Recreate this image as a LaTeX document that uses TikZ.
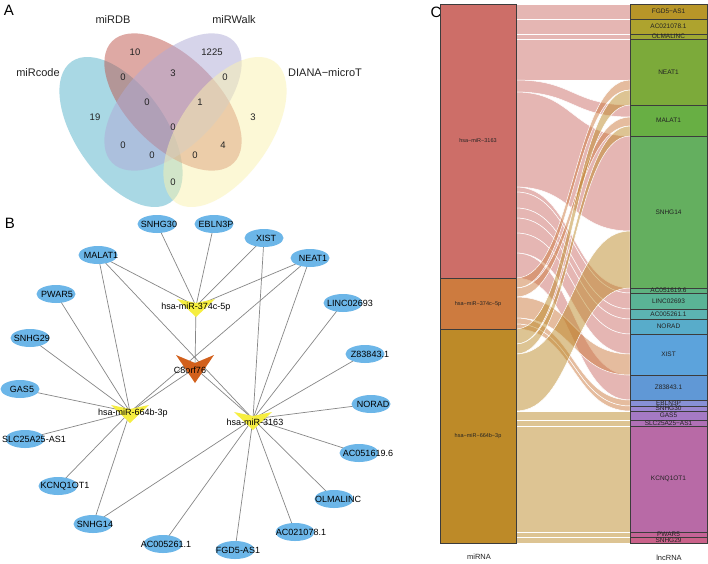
\documentclass[tikz,border=0pt]{standalone}
\usepackage{fontspec}
\setmainfont{Liberation Sans}
\usetikzlibrary{shapes.geometric}
\pgfdeclarelayer{bglayer}
\pgfdeclarelayer{edgelayer}
\pgfsetlayers{bglayer,edgelayer,main}
\definecolor{vblue}{RGB}{84,178,202}
\definecolor{vred}{RGB}{190,85,75}
\definecolor{vlav}{RGB}{175,170,215}
\definecolor{vyel}{RGB}{250,242,175}
\definecolor{lncblue}{RGB}{108,182,232}
\definecolor{miryel}{RGB}{246,238,64}
\definecolor{mrnaor}{RGB}{210,96,28}
\definecolor{edgegray}{RGB}{135,135,135}
\definecolor{s3163}{RGB}{205,110,104}
\definecolor{s374}{RGB}{205,123,63}
\definecolor{s664}{RGB}{189,138,40}
\definecolor{strokegray}{RGB}{60,60,60}
\definecolor{txtdark}{RGB}{35,35,35}
\tikzset{
  vennset/.style={fill opacity=0.5},
  vcount/.style={font=\fontsize{9.5}{9.5}\selectfont, inner sep=0pt, text=txtdark},
  vlabel/.style={font=\fontsize{11}{11}\selectfont, inner sep=0pt, text=txtdark},
  panel/.style={font=\fontsize{15}{15}\selectfont, inner sep=0pt},
  lnc/.style={ellipse, fill=lncblue, minimum width=39pt, minimum height=18pt, inner sep=0pt},
  ntxt/.style={font=\fontsize{9}{9}\selectfont, inner sep=0pt},
  edge/.style={draw=edgegray, line width=0.7pt},
  stratumbox/.style={draw=strokegray, line width=0.6pt},
  stxt/.style={font=\fontsize{6.5}{6.5}\selectfont, inner sep=0pt, text=txtdark},
  sltxt/.style={font=\fontsize{5.5}{5.5}\selectfont, inner sep=0pt, text=txtdark},
  axtxt/.style={font=\fontsize{7.5}{7.5}\selectfont, inner sep=0pt, text=txtdark},
}
\newcommand{\sflow}[5]{%
  \path[fill=#5, fill opacity=0.5, draw=white, line width=0.5pt]
   (516,#1) .. controls (573,#1) and (573,#3) .. (630,#3) -- (630,#4)
   .. controls (573,#4) and (573,#2) .. (516,#2) -- cycle;}
\begin{document}
\begin{tikzpicture}[x=1pt,y=-1pt]
\useasboundingbox (0,0) rectangle (708,563);
\begin{pgfonlayer}{bglayer}
\fill[white] (0,0) rectangle (708,563);
\end{pgfonlayer}
% ---------------- Panel A: Venn
\node[panel] (pA) at (9,10) {A};
\fill[vblue, vennset, rotate around={-55:(121,132)}] (121,132) ellipse [x radius=86, y radius=45];
\fill[vred, vennset, rotate around={-45:(173,102)}] (173,102) ellipse [x radius=86, y radius=45];
\fill[vlav, vennset, rotate around={45:(173,102)}] (173,102) ellipse [x radius=86, y radius=45];
\fill[vyel, vennset, rotate around={55:(225,132)}] (225,132) ellipse [x radius=86, y radius=45];
\foreach \x/\y/\t [count=\i] in {95/117/19, 135/52/10, 212/52/1225, 253/117/3, 123/77/0, 173/73/3,
  225/77/0, 147/102/0, 200/102/1, 173/127/0, 123/145/0, 223/145/4, 152/155/0, 195/155/0, 173/182/0}
  \node[vcount] (vc\i) at (\x,\y) {\t};
\node[vlabel] (lmircode) at (38,73) {miRcode};
\node[vlabel] (lmirdb) at (113,20) {miRDB};
\node[vlabel] (lmirwalk) at (234,20) {miRWalk};
\node[vlabel, anchor=west] (ldiana) at (288,73) {DIANA−microT};
% ---------------- Panel B: network
\node[panel] (pB) at (10,223) {B};
\foreach \n/\ex/\ey/\tx/\t in {snhg30/157/224/159/SNHG30, ebln3p/214/224/216/EBLN3P, xist/264/238/266/XIST,
  malat1/98/255/101/MALAT1, neat1/310/258/313/NEAT1, pwar5/56/294/57/PWAR5, linc/343/303/350/LINC02693,
  snhg29/30/338/32/SNHG29, z83/365/354/370/Z83843.1, gas5/20/389/22/GAS5, norad/371/404/373/NORAD,
  slc/25/439/34/SLC25A25-AS1, ac051/359/453/368/AC051619.6, kcnq/58/486/65/KCNQ1OT1,
  olm/334/499/338/OLMALINC, snhg14/93/524/95/SNHG14, ac021/295/532/301/AC021078.1,
  ac005/163/544/166/AC005261.1, fgd5/235/550/238/FGD5-AS1}
  {\node[lnc] (\n) at (\ex,\ey) {};
   \node[ntxt] (\n-t) at (\tx,\ey) {\t};}
\coordinate (m374) at (196,306);
\coordinate (m664) at (130,412);
\coordinate (m3163) at (253,419);
\coordinate (c8) at (195,368);
\begin{pgfonlayer}{edgelayer}
\foreach \a in {snhg30,ebln3p,xist,neat1,malat1} \draw[edge] (\a.center) -- (m374);
\foreach \a in {malat1,pwar5,snhg29,gas5,slc,kcnq,snhg14,neat1} \draw[edge] (\a.center) -- (m664);
\foreach \a in {xist,neat1,linc,z83,norad,ac051,olm,ac021,fgd5,ac005,snhg14,malat1} \draw[edge] (\a.center) -- (m3163);
\foreach \a in {m374,m664,m3163} \draw[edge] (\a) -- (c8);
\end{pgfonlayer}
\foreach \m in {m374,m664,m3163}
  \fill[miryel, shift={(\m)}] (-19,-7) -- (0,-3) -- (19,-7) -- (0,11) -- cycle;
\fill[mrnaor, shift={(c8)}] (-19,-13) -- (0,-5) -- (19,-13) -- (0,15) -- cycle;
\node[ntxt] (m374-t) at (196,307) {hsa-miR-374c-5p};
\node[ntxt] (m664-t) at (133,413) {hsa-miR-664b-3p};
\node[ntxt] (m3163-t) at (255,422) {hsa-miR-3163};
\node[ntxt] (c8-t) at (190,370) {C8orf76};
% ---------------- Panel C: Sankey
\node[panel] (pC) at (436,12) {C};
\sflow{4}{19}{4}{19}{s3163}
\sflow{19}{34}{19}{34}{s3163}
\sflow{34}{39}{34}{39}{s3163}
\sflow{39}{80}{39}{80}{s3163}
\sflow{80}{92}{105}{117}{s3163}
\sflow{92}{187}{136}{231}{s3163}
\sflow{187}{192}{288}{293}{s3163}
\sflow{192}{208}{293}{309}{s3163}
\sflow{208}{218}{309}{319}{s3163}
\sflow{218}{233}{319}{334}{s3163}
\sflow{233}{253}{334}{354}{s3163}
\sflow{253}{278}{375}{400}{s3163}
\sflow{278}{288}{80}{90}{s374}
\sflow{288}{297}{117}{126}{s374}
\sflow{297}{318}{354}{375}{s374}
\sflow{318}{324}{400}{406}{s374}
\sflow{324}{329}{406}{411}{s374}
\sflow{329}{344}{90}{105}{s664}
\sflow{344}{354}{126}{136}{s664}
\sflow{354}{411}{231}{288}{s664}
\sflow{411}{420}{411}{420}{s664}
\sflow{420}{426}{420}{426}{s664}
\sflow{426}{532}{426}{532}{s664}
\sflow{532}{537}{532}{537}{s664}
\sflow{537}{543}{537}{543}{s664}
\draw[stratumbox, fill=s3163] (440,4) rectangle (516,278);
\draw[stratumbox, fill=s374] (440,278) rectangle (516,329);
\draw[stratumbox, fill=s664] (440,329) rectangle (516,543);
\node[sltxt] (sl1) at (478,141) {hsa−miR−3163};
\node[sltxt] (sl2) at (478,304) {hsa−miR−374c−5p};
\node[sltxt] (sl3) at (478,436) {hsa−miR−664b−3p};
\foreach \ya/\yb/\r/\g/\b/\t [count=\i] in {4/19/184/150/40/FGD5−AS1, 19/34/174/163/46/AC021078.1,
  34/39/160/168/50/OLMALINC, 39/105/124/170/58/NEAT1, 105/136/104/175/68/MALAT1,
  136/288/100/175/95/SNHG14, 288/293/94/178/128/AC051619.6, 293/309/90/180/150/LINC02693,
  309/319/92/180/178/AC005261.1, 319/334/88/172/202/NORAD, 334/375/92/163/220/XIST,
  375/400/96/152/214/Z83843.1, 400/406/136/144/214/EBLN3P, 406/411/155/134/208/SNHG30,
  411/420/165/122/196/GAS5, 420/426/176/112/182/SLC25A25−AS1, 426/532/184/106/166/KCNQ1OT1,
  532/537/196/100/150/PWAR5, 537/543/202/98/138/SNHG29}
  {\definecolor{tmpc}{RGB}{\r,\g,\b}
   \draw[stratumbox, fill=tmpc] (630,\ya) rectangle (707,\yb);
   \node[stxt] (sr\i) at (668.5,{(\ya+\yb)/2}) {\t};}
\node[axtxt] (axl) at (479,557) {miRNA};
\node[axtxt] (axr) at (669,558) {lncRNA};
\end{tikzpicture}
\end{document}
